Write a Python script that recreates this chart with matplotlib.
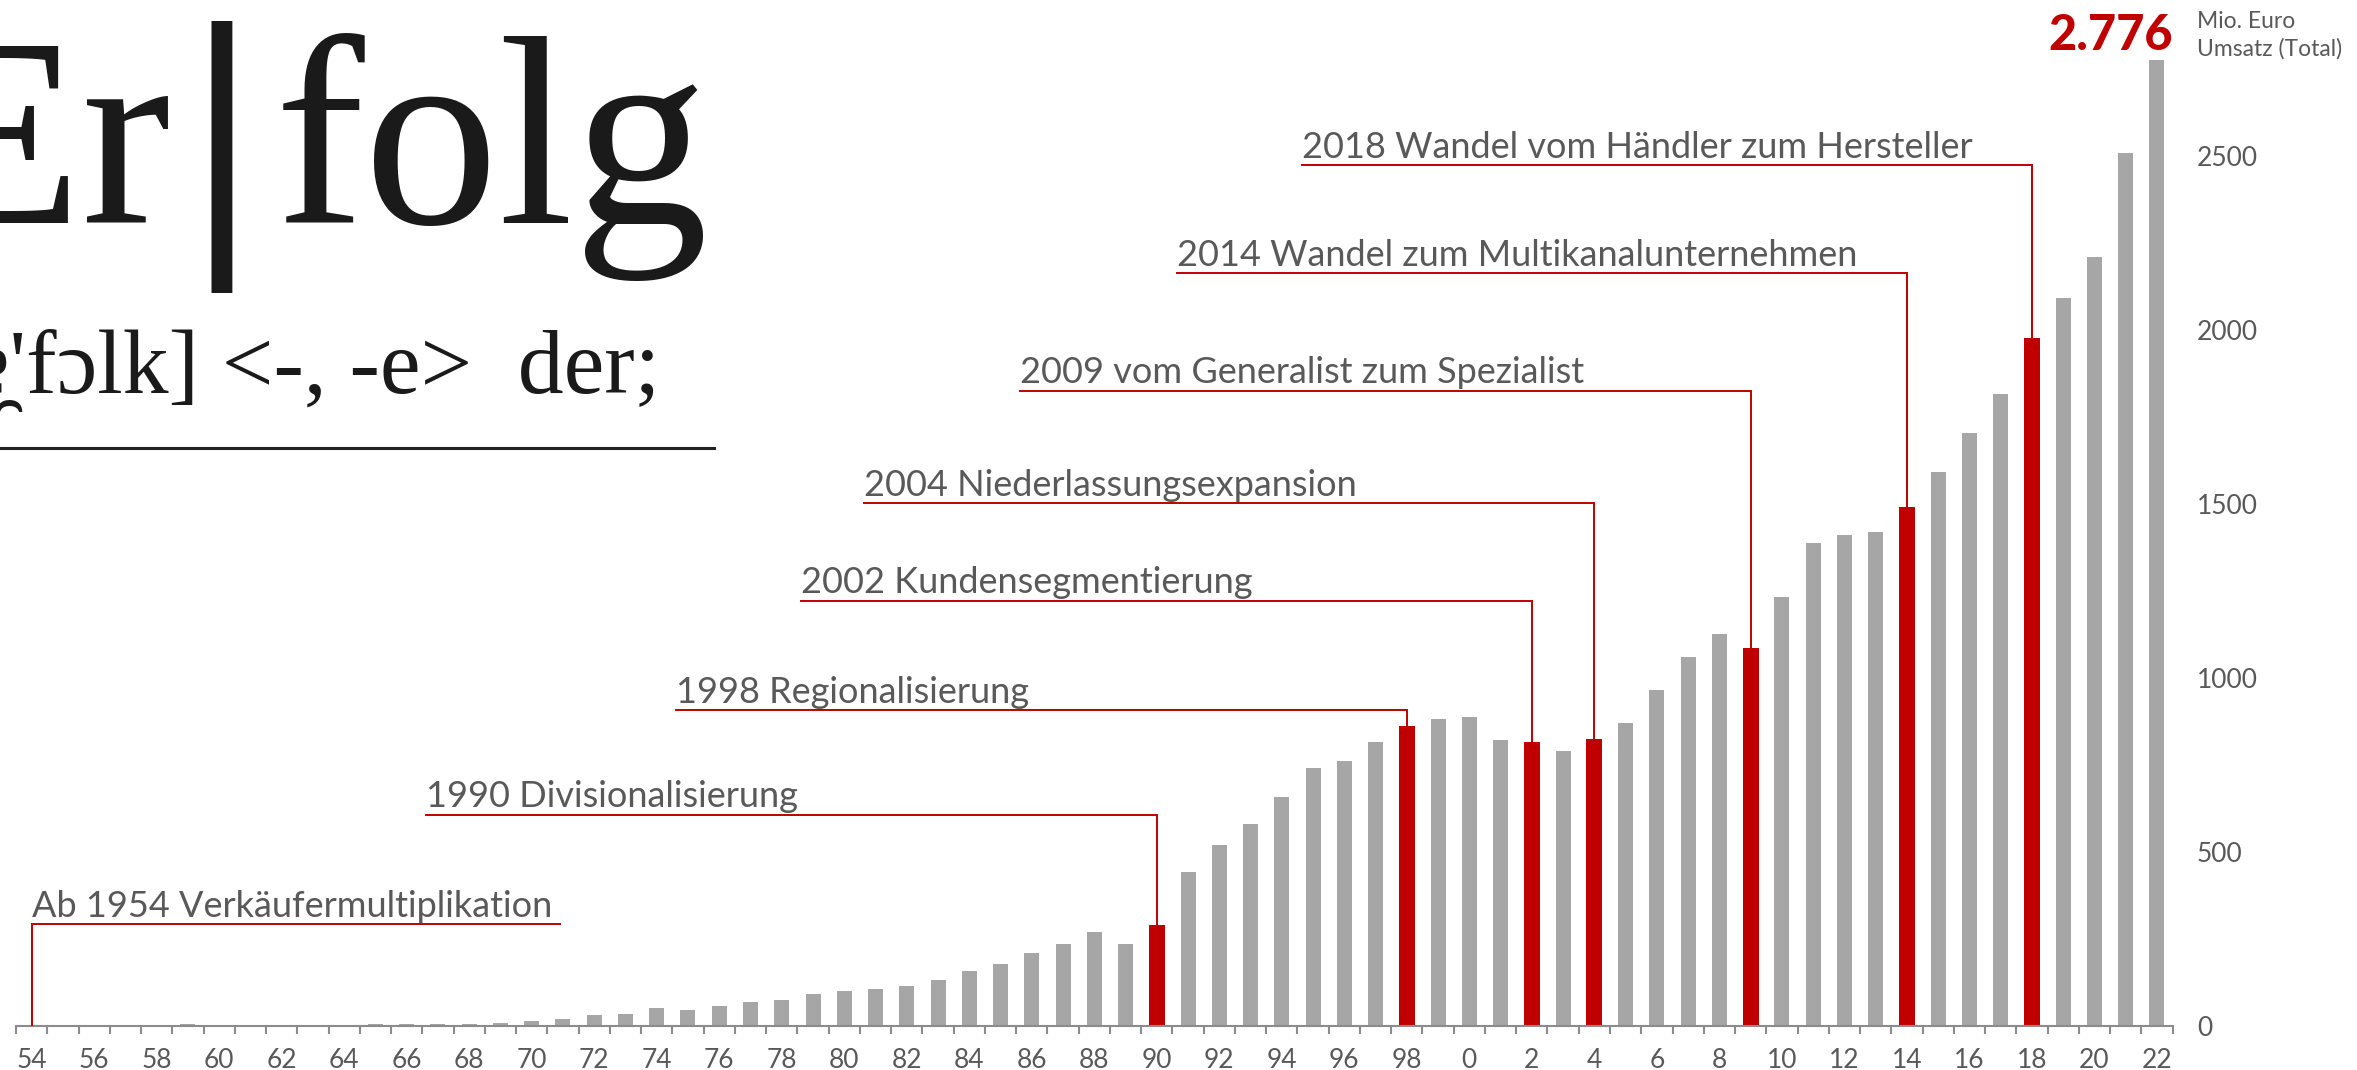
import numpy as np
import matplotlib
matplotlib.use("Agg")
import matplotlib.pyplot as plt

# Umsatz in Mio. Euro, 1954 - 2022
years = list(range(1954, 2023))
revenue = [0, 0.5, 1, 1, 1.5, 4, 1, 1, 1.5, 2,
           3, 4, 5, 4, 5, 8, 13, 20, 30, 35,
           51, 44, 56, 67, 73, 90, 101, 106, 113, 131,
           157, 176, 208, 235, 268, 235, 288, 443, 520, 580,
           658, 740, 762, 814, 861, 880, 886, 820, 814, 790,
           825, 870, 965, 1060, 1125, 1085, 1232, 1388, 1410, 1418,
           1490, 1590, 1702, 1815, 1975, 2090, 2210, 2509, 2776]

event_years = [1954, 1990, 1998, 2002, 2004, 2009, 2014, 2018]
event_labels = ["Ab 1954 Verkäufermultiplikation",
                "1990 Divisionalisierung",
                "1998 Regionalisierung",
                "2002 Kundensegmentierung",
                "2004 Niederlassungsexpansion",
                "2009 vom Generalist zum Spezialist",
                "2014 Wandel zum Multikanalunternehmen",
                "2018 Wandel vom Händler zum Hersteller"]
# height of the red leader lines (in Mio. Euro)
event_levels = [291, 606, 906, 1221, 1501, 1825, 2162, 2472]

total_label = "2.776"
unit_label = "Mio. Euro\nUmsatz (Total)"
y_ticks = [0, 500, 1000, 1500, 2000, 2500]

GREY = "#a6a6a6"
RED = "#c00000"
TXT = "#595959"
SANS = "Lato"

W, H = 2357, 1070
fig = plt.figure(figsize=(W / 100, H / 100), dpi=100)
ax = fig.add_axes([16 / W, 44.3 / H, 2156.6 / W, 1025.7 / H])
ax.set_xlim(1953.5, 2022.5)
ax.set_ylim(0, 1025.7 / 0.348)

colors = [RED if y in event_years else GREY for y in years]
widths = [0.51 if y in event_years else 0.48 for y in years]
ax.bar(years, revenue, width=widths, color=colors, zorder=2)

# leader lines + labels
for yr, lab, lvl in zip(event_years, event_labels, event_levels):
    val = revenue[years.index(yr)]
    if yr == 1954:
        # first one runs to the right, vertical stroke at the start
        xs, ys = [1970.9, yr, yr], [lvl, lvl, val]
        x0 = yr
    else:
        x0 = yr - 23.37
        xs, ys = [x0, yr, yr], [lvl, lvl, val]
    ax.plot(xs, ys, color=RED, lw=1.4, solid_joinstyle="miter", zorder=3)
    ax.text(x0, lvl + 22, lab, fontsize=26, family=SANS,
            color=TXT, va="baseline", ha="left")

for s in ["top", "left", "right"]:
    ax.spines[s].set_visible(False)
ax.spines["bottom"].set_color("#8c8c8c")
ax.spines["bottom"].set_linewidth(1.5)

even = [y for y in years if y % 2 == 0]
ax.set_xticks(even)
ax.set_xticklabels([str(y % 100) for y in even], fontsize=19, family=SANS,
                   color=TXT)
ax.set_xticks(np.arange(1953.5, 2023, 1.0), minor=True)
ax.tick_params(axis="x", which="major", length=0, pad=16)
ax.tick_params(axis="x", which="minor", length=6, width=1.5, color="#8c8c8c")

ax.yaxis.tick_right()
ax.set_yticks(y_ticks)
ax.set_yticklabels([str(v) for v in y_ticks], fontsize=19, family=SANS,
                   color=TXT)
ax.tick_params(axis="y", length=0, pad=17.6)
for t in ax.get_yticklabels():
    t.set_ha("left")

ax.text(2022.5, 2804, total_label, fontsize=35, family=SANS, weight="black",
        color=RED, ha="right", va="baseline")
fig.text(2197 / W, 1 - 11 / H, unit_label, fontsize=16.5, family=SANS,
         color=TXT, ha="left", va="top", linespacing=1.35)

# dictionary heading, cut at the left edge
serif = ["Liberation Serif", "DejaVu Serif"]
ink = "#1a1a1a"
base = 1 - 223 / H
fig.text(172 / W, base, "Er", fontsize=194, family=serif, color=ink,
         ha="right", va="baseline")
fig.text(221 / W, 1 - 229 / H, "|", fontsize=215, family=serif, color=ink,
         weight="bold", ha="center", va="baseline")
fig.text(492 / W, base, "folg", fontsize=194, family=serif, color=ink,
         ha="center", va="baseline")
fig.text(660 / W, 1 - 393 / H, "[ɛɐ̯'fɔlk] <-, -e>  der;", fontsize=66,
         family=serif, color=ink, ha="right", va="baseline")
fig.add_artist(plt.Line2D([0, 714 / W], [1 - 448 / H, 1 - 448 / H],
                          color="#222222", lw=2.2))

fig.savefig("out.png", dpi=100)
